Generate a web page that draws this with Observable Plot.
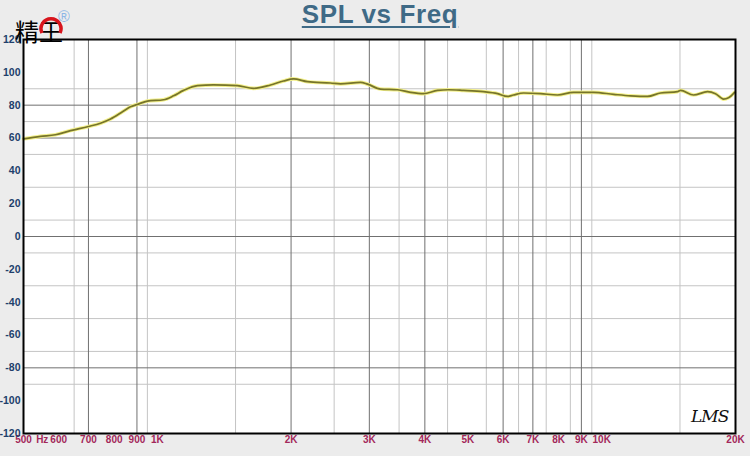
<!DOCTYPE html>
<html>
<head>
<meta charset="utf-8">
<script src="https://cdn.jsdelivr.net/npm/d3@7"></script>
<script src="https://cdn.jsdelivr.net/npm/@observablehq/plot@0.6"></script>
<style>
  html, body { margin: 0; padding: 0; background: #ececec; }
  #wrap { position: relative; width: 750px; height: 456px; overflow: hidden; }
  #title { position: absolute; left: 0; top: 1px; width: 760px; text-align: center;
    font: bold 26px/26px "Liberation Sans", Arial, sans-serif; color: #3f6a86; letter-spacing: 0.6px;
    text-decoration: underline; text-decoration-thickness: 2px; text-underline-offset: 3px; }
  .logo { position: absolute; }
  #lms { position: absolute; left: 691px; top: 406px; font: italic 17px "DejaVu Serif", serif; color: #111; letter-spacing: -1px; }
</style>
</head>
<body>
<div id="wrap">
  <div id="chart"></div>
  <div id="title">SPL vs Freq</div>
  <div class="logo" style="left:15px;top:18px;font:24px/26px 'Noto Sans CJK SC';color:#000;">精王</div>
  <svg class="logo" style="left:38px;top:14px" width="28" height="24"><path d="M4,19 A10,10 0 1 1 22,19" fill="none" stroke="#d8141c" stroke-width="3.5"/></svg>
  <div class="logo" style="left:58px;top:9px;font:16px/16px 'Liberation Sans';color:#8cb6e6;">®</div>
  <div id="lms">LMS</div>
</div>
<script>
const freq = [500, 546, 590, 638, 700, 745, 785, 835, 870, 903, 950, 1033, 1088, 1146, 1232, 1338, 1515, 1646, 1798, 1923, 2026, 2178, 2454, 2584, 2866, 2972, 3180, 3471, 3714, 3972, 4272, 4522, 4886, 5420, 5830, 6140, 6330, 6670, 7285, 7955, 8640, 9585, 10635, 11610, 12680, 13565, 14810, 15045, 16095, 17300, 18030, 18800, 19290, 19900];
const spl = [59.5, 61, 62, 64.5, 67, 69, 71.6, 76, 79, 80.5, 82.5, 83.3, 85.7, 89, 91.9, 92.3, 91.9, 90.2, 92.3, 94.7, 96, 94.3, 93.5, 93, 93.9, 92.8, 89.8, 89.4, 87.8, 87, 89, 89.4, 89, 88.2, 87, 85.3, 86.2, 87.4, 87, 86.2, 87.8, 87.8, 86.6, 85.7, 85.3, 87.4, 88.2, 89, 86.2, 88.2, 87, 83.7, 84.5, 87.8];
const xTicks = [500, 600, 700, 800, 900, 1000, 2000, 3000, 4000, 5000, 6000, 7000, 8000, 9000, 10000, 20000];
const xTickLabels = ["500", "600", "700", "800", "900", "1K", "2K", "3K", "4K", "5K", "6K", "7K", "8K", "9K", "10K", "20K"];
const yTicks = [-120, -100, -80, -60, -40, -20, 0, 20, 40, 60, 80, 100, 120];
const gridDarkX = [700, 900, 2000, 3000, 4000, 6000, 7000, 9000];
const gridLightX = [650, 950, 1500, 2500, 3500, 4500, 5500, 6500, 7500, 8500, 9500, 15000];
const gridDarkY = [80, 60, 0, -80];
const gridLightY = [90, 70, 50, 30, 10, -10, -30, -50, -70, -90];
const unitLabel = [{f: 551, t: "Hz"}];

const data = freq.map((f, i) => ({f, v: spl[i]}));
const xLabelData = xTicks.map((f, i) => ({f, t: xTickLabels[i]}));

const chart = Plot.plot({
  width: 750, height: 456,
  marginLeft: 23, marginRight: 15, marginTop: 39, marginBottom: 23,
  x: {type: "log", domain: [500, 20000], axis: null},
  y: {domain: [-120, 120], axis: null},
  style: {background: "#ececec", fontFamily: "'Liberation Sans', Arial, sans-serif"},
  marks: [
    Plot.frame({fill: "white", stroke: null}),
    Plot.ruleX(gridLightX, {stroke: "#c4c4c4", strokeWidth: 1}),
    Plot.ruleY(gridLightY, {stroke: "#c4c4c4", strokeWidth: 1}),
    Plot.ruleX(gridDarkX, {stroke: "#707070", strokeWidth: 1}),
    Plot.ruleY(gridDarkY, {stroke: "#707070", strokeWidth: 1}),
    Plot.line(data, {x: "f", y: "v", stroke: "#f3f08c", strokeWidth: 3.6, curve: "monotone-x"}),
    Plot.line(data, {x: "f", y: "v", stroke: "#76742a", strokeWidth: 1.7, curve: "monotone-x"}),
    Plot.frame({stroke: "black", strokeWidth: 2}),
    Plot.text(xLabelData, {x: "f", text: "t", frameAnchor: "bottom", dy: 9, fill: "#a3285a",
      fontWeight: "bold", fontSize: 10}),
    Plot.axisY({ticks: yTicks, tickFormat: d => String(d), tickSize: 0, tickPadding: 3,
      fill: "#213f6b", fontWeight: "bold", fontSize: 10.5, label: null}),
    Plot.text(unitLabel, {x: "f", text: "t", frameAnchor: "bottom", dy: 9, fill: "#a3285a",
      fontWeight: "bold", fontSize: 10})
  ]
});
document.getElementById("chart").appendChild(chart);
</script>
</body>
</html>
